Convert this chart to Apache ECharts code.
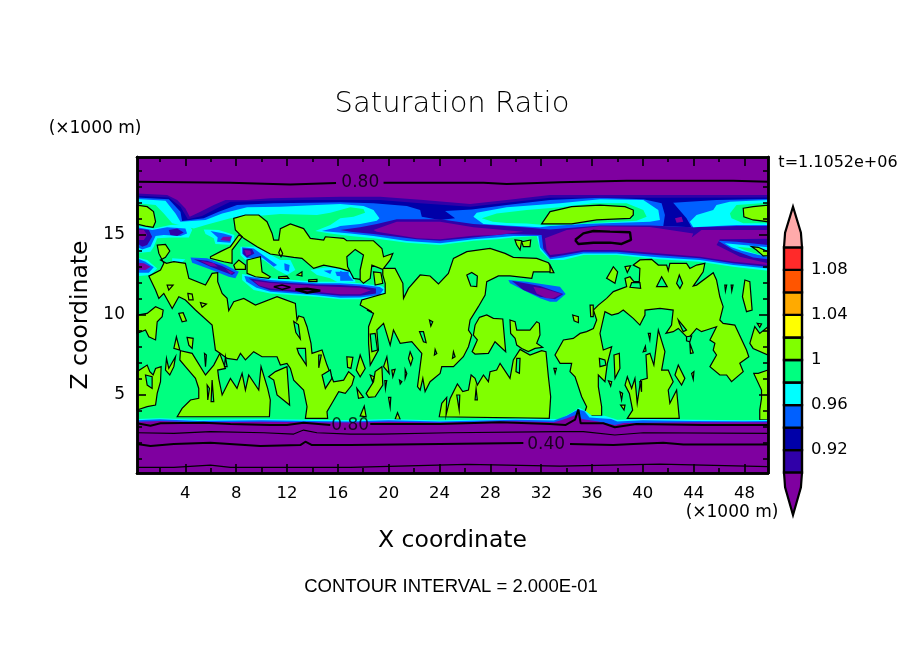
<!DOCTYPE html>
<html><head><meta charset="utf-8"><style>html,body{margin:0;background:#fff}#c{width:904px;height:654px}</style>
<script src="https://cdn.jsdelivr.net/npm/echarts@6/dist/echarts.min.js"></script></head><body><div id="c"></div>
<script>
// colour scale
const levelStarts=[0.90,0.92,0.94,0.96,0.98,1.00,1.02,1.04,1.06,1.08];
const levelColors=['#3000a8','#0000a8','#0060ff','#00ffff','#00ff80','#80ff00','#ffff00','#ffaa00','#ff5500','#ff2a2a'];
const barLabels=[0.92,0.96,1,1.04,1.08];
const xMajor=[4,8,12,16,20,24,28,32,36,40,44,48];
const xMinor=[2,6,10,14,18,22,26,30,34,38,42,46];
const yMajor=[5,10,15];
const yMinor=[1,2,3,4,6,7,8,9,11,12,13,14,16,17,18,19];
const PURPLE='#7f00a0',INDIGO='#3000a8',DARK='#0000a8',BLUE='#0060ff',CYAN='#00ffff',TEAL='#00ff80',LIME='#80ff00';

// upper and lower stratified bands (x km, z km)
const cyanBand=[[0.2,19.875],[49.85,19.875],[49.85,12.77],[47.11,13.02],[44.49,13.33],[41.35,13.48],[37.94,13.75],[35.32,13.75],[33.75,13.44],[32.7,13.44],[31.91,14.06],[31.65,14.93],[29.81,14.85],[28.5,14.73],[26.67,14.64],[24.05,14.37],[21.43,14.52],[18.81,14.79],[16.98,14.93],[15.41,15.1],[14.23,15.25],[15.41,15.62],[16.19,16.04],[17.24,16.14],[18.15,16.39],[18.02,16.62],[16.98,16.73],[15.41,16.39],[14.36,16.25],[11.48,16.31],[7.55,16.04],[5.59,15.62],[4.67,15.41],[2.97,15.73],[2.31,16.35],[1.66,16.87],[0.2,16.98]];
const blueBand=[[0.2,19.875],[49.85,19.875],[49.85,12.91],[47.11,13.12],[44.49,13.44],[41.35,13.6],[37.94,13.85],[35.32,13.85],[33.75,13.6],[32.7,13.48],[31.91,14.23],[31.78,14.93],[29.81,14.94],[28.5,14.85],[26.67,14.73],[24.05,14.48],[21.43,14.62],[18.81,14.94],[16.98,15.1],[15.41,15.21],[14.75,15.25],[15.93,15.48],[16.19,15.56],[17.76,15.69],[19.07,15.89],[19.28,16.04],[18.81,16.56],[18.02,16.81],[16.19,16.94],[14.36,16.87],[11.48,16.77],[8.86,16.73],[6.9,16.35],[5.59,15.94],[3.62,15.83],[3.23,16.35],[2.44,17.14],[0.2,17.25]];
const lensCyan=[[26.67,16.14],[26.93,16.39],[29.29,16.73],[33.48,16.98],[36.63,17.23],[40.04,17.19],[41.22,16.56],[41.35,15.94],[40.56,15.83],[35.32,15.69],[32.7,15.56],[31.91,15.48],[29.29,15.6],[27.46,15.69]];
const lensTeal=[[27.33,16.04],[28.5,16.35],[30.86,16.56],[33.48,16.73],[36.11,16.98],[38.73,16.98],[40.04,16.56],[40.3,16.14],[39.51,15.89],[36.63,15.77],[32.7,15.6],[30.86,15.72],[29.29,15.75],[28.2,15.83]];
const darkUpper=[[0.2,19.875],[49.85,19.875],[49.85,17.25],[45.8,17.19],[42.39,17.02],[43.44,16.04],[43.84,15.48],[41.61,15.56],[41.74,16.25],[41.48,16.98],[40.04,17.23],[36.63,17.33],[32.7,17.19],[29.29,16.87],[26.54,16.6],[24.44,16.5],[25.23,16.04],[24.05,15.94],[22.61,16.14],[22.48,16.56],[21.43,16.81],[18.81,16.98],[16.19,17.04],[13.84,17.02],[10.96,16.98],[8.07,16.87],[6.63,16.46],[5.45,16.04],[3.75,15.87],[3.62,16.46],[2.7,17.23],[0.2,17.35]];
const indigoUpper=[[0.2,19.875],[49.85,19.875],[49.85,17.35],[41.87,17.33],[32.7,17.33],[29.29,17.02],[26.41,16.77],[22.48,16.98],[19.33,17.19],[16.19,17.19],[13.31,17.19],[10.69,17.14],[7.55,17.08],[6.5,16.67],[5.32,16.19],[4.2,15.98],[3.62,16.77],[2.7,17.35],[0.2,17.46]];
const purpleUpper=[[0.2,19.875],[49.85,19.875],[49.85,17.5],[32.7,17.5],[29.29,17.19],[26.41,16.94],[22.74,17.19],[19.33,17.39],[16.19,17.39],[10.69,17.29],[8.86,17.19],[7.16,17.19],[6.24,16.87],[5.19,16.46],[4.35,16.14],[4.01,16.66],[3.36,17.19],[2.57,17.5],[0.2,17.6]];
const indigoLower=[[16.19,15.31],[17.76,15.48],[19.07,15.69],[20.64,15.98],[24.05,15.98],[26.67,15.69],[30.6,15.48],[32.7,15.35],[36.63,15.6],[40.56,15.6],[43.97,15.48],[47.37,15.56],[49.85,15.56],[49.85,13.02],[47.11,13.23],[44.49,13.54],[41.35,13.73],[37.94,13.96],[35.32,13.96],[33.75,13.73],[32.7,13.6],[32.17,14.16],[32.04,15.0],[29.29,15.06],[26.67,14.85],[24.05,14.64],[22.22,14.73],[18.81,15.06],[16.98,15.21]];
const purpleLowerA=[[18.81,15.31],[20.64,15.83],[24.05,15.83],[26.67,15.48],[30.6,15.21],[28.5,15.0],[26.67,14.96],[24.05,14.73],[22.22,14.79],[19.07,15.21]];
const purpleLowerB=[[32.3,14.79],[34.01,15.31],[36.63,15.55],[40.56,15.5],[43.97,15.1],[43.84,14.85],[44.62,15.31],[49.85,15.31],[49.85,14.77],[46.06,14.73],[45.8,14.37],[47.63,13.64],[49.85,13.23],[49.85,13.12],[47.11,13.33],[44.49,13.64],[41.35,13.85],[37.94,14.06],[35.32,14.06],[33.75,13.85],[32.7,13.75],[32.43,14.06]];
const indigoSpot=[[42.53,16.04],[43.05,16.14],[43.18,15.83],[42.66,15.77]];
const lensRightCyan=[[43.7,15.83],[44.23,16.25],[45.54,16.56],[45.8,16.87],[46.85,17.08],[49.85,17.19],[49.85,15.62],[47.37,15.62],[43.97,15.48]];
const lensRightTeal=[[46.85,16.35],[47.37,16.87],[49.85,17.02],[49.85,15.73],[47.9,15.73],[46.98,16.04]];
const lensRightLime=[[47.9,16.67],[48.68,16.77],[49.85,16.87],[49.85,15.83],[48.68,15.94],[47.95,16.14]];
const lensMidLime=[[32.04,15.69],[32.7,16.46],[33.48,16.6],[34.4,16.77],[36.63,16.87],[38.6,16.77],[39.25,16.56],[39.25,16.25],[38.99,16.04],[36.37,15.94],[34.4,15.69]];
const pocketBlue=[[45.93,14.64],[47.37,14.58],[49.85,14.37],[49.85,13.48],[48.68,13.6],[47.11,14.06]];
const pocketCyan=[[46.45,14.48],[49.85,14.23],[49.85,13.6],[49.47,13.69],[47.77,14.02],[46.98,14.23]];
const pocketTeal=[[47.37,14.27],[48.94,14.16],[49.2,13.75],[48.16,14.02]];
const pocketLime=[[48.55,14.27],[49.08,14.23],[49.85,13.96],[49.85,13.69],[49.47,13.69],[48.94,14.06]];

// dry patches
const streakFBlue=[[29.42,12.19],[30.86,12.08],[32.57,11.87],[33.48,11.77],[33.93,11.31],[33.22,10.83],[32.7,10.83],[31.91,11.04],[30.86,11.46],[29.55,11.98]];
const streakFIndigo=[[29.68,12.14],[31.91,11.81],[33.75,11.31],[33.09,10.98],[31.91,11.14],[30.6,11.56]];
const streakFPurple=[[31.39,11.77],[32.17,11.66],[33.62,11.31],[32.96,11.04],[32.43,11.04],[31.65,11.35]];
const blobACyan=[[0.2,15.56],[1.52,15.41],[2.83,15.62],[4.28,15.69],[4.54,15.31],[4.28,14.85],[2.83,14.85],[1.79,14.79],[1.52,14.27],[1.26,13.96],[0.48,13.89],[0.2,13.96]];
const blobABlue=[[0.2,15.48],[1.39,15.31],[2.57,15.48],[4.01,15.41],[4.14,15.1],[3.62,14.94],[2.31,15.0],[1.66,14.94],[1.26,14.27],[0.61,14.1],[0.2,14.27]];
const blobAIndigo=[[0.2,15.41],[1.13,15.31],[1.39,14.89],[1.0,14.37],[0.61,14.27],[0.2,14.48]];
const blobAIndigo2=[[2.7,15.31],[3.36,15.41],[3.88,15.16],[3.36,14.94],[2.83,15.0]];
const blobAPurple=[[0.2,15.35],[0.74,15.31],[1.0,15.0],[0.74,14.69],[0.2,14.69]];
const blobGCyan=[[5.45,15.35],[6.63,15.31],[7.86,15.0],[7.81,14.37],[6.37,14.43],[6.24,14.79],[5.59,15.06]];
const blobGBlue=[[5.98,15.25],[7.03,15.1],[7.68,14.94],[7.55,14.52],[6.5,14.58],[6.55,14.85]];
const blobGIndigo=[[6.97,14.89],[7.63,14.89],[7.5,14.62],[6.76,14.69]];
const blobBCyan=[[0.2,13.6],[1.0,13.44],[1.79,12.91],[1.26,12.5],[0.35,12.43],[0.2,12.5]];
const blobBBlue=[[0.2,13.54],[0.87,13.33],[1.52,12.98],[1.13,12.64],[0.2,12.64]];
const blobBPurple=[[0.2,13.27],[0.74,13.23],[1.26,13.02],[0.87,12.81],[0.2,12.85]];
const blobBCyan2=[[2.97,13.54],[4.01,13.48],[3.62,13.19],[2.97,13.33]];
const streakCBlue=[[4.41,13.6],[5.72,13.54],[7.16,13.12],[8.21,12.7],[7.94,12.29],[7.42,12.39],[5.98,12.85],[4.54,13.27]];
const streakCIndigo=[[4.67,13.48],[5.72,13.39],[6.9,13.06],[7.94,12.64],[7.68,12.5],[5.98,13.02]];
const streakCPurple=[[5.19,13.39],[6.24,13.23],[6.55,13.02],[5.98,13.06]];
const streakCPurple2=[[7.16,12.91],[7.81,12.64],[7.55,12.56]];
const streakDCyan=[[8.47,12.56],[10.69,12.29],[14.36,12.08],[16.19,12.08],[17.76,11.98],[19.47,11.81],[19.91,11.6],[19.47,11.14],[17.76,10.98],[16.19,10.98],[14.36,11.14],[10.69,11.35],[9.38,11.56],[8.47,12.19]];
const streakDBlue=[[8.65,12.43],[10.69,12.19],[14.36,11.98],[16.19,11.98],[17.76,11.9],[19.3,11.75],[19.6,11.6],[19.3,11.25],[17.76,11.1],[16.19,11.08],[14.36,11.23],[10.69,11.45],[9.6,11.7],[8.8,12.1]];
const streakDIndigo=[[8.99,12.29],[10.69,12.08],[14.36,11.9],[16.19,11.87],[17.76,11.8],[19.0,11.65],[19.0,11.35],[17.76,11.2],[16.19,11.2],[14.36,11.35],[10.69,11.55],[9.8,11.8]];
const streakDPurple=[[9.38,12.14],[10.69,12.0],[14.36,11.82],[16.19,11.75],[17.76,11.7],[18.6,11.55],[17.76,11.3],[16.19,11.3],[14.36,11.43],[10.69,11.65],[9.8,11.85]];
const blobECyan=[[8.34,14.27],[9.52,14.27],[11.48,13.44],[12.27,13.44],[12.66,12.81],[12.0,12.5],[11.22,12.81],[10.17,13.44],[9.52,13.54],[8.73,13.44],[8.34,13.75]];
const blobEBlue=[[8.47,14.23],[9.38,14.16],[11.22,13.12],[10.96,13.02],[10.04,13.6],[8.86,13.54],[8.47,13.85]];
const blobEIndigo=[[8.55,14.16],[9.25,14.12],[9.44,13.85],[8.86,13.6],[8.55,13.81]];
const blobEPurple=[[8.65,14.06],[9.12,14.02],[9.17,13.81],[8.81,13.71]];
const blobEBlue2=[[11.79,13.23],[12.21,13.12],[12.14,12.7],[11.82,12.81]];
const patchCyan=[[13.84,12.81],[15.15,12.98],[16.98,12.91],[17.3,12.3],[17.4,12.05],[16.0,12.05],[15.41,12.29],[14.36,12.5]];
const patchBlue1=[[14.89,12.77],[15.54,12.81],[15.41,12.56]];
const patchBlue2=[[15.8,12.7],[16.85,12.7],[16.85,12.39],[15.93,12.43]];
const patchBlue3=[[16.19,12.77],[16.85,12.5],[17.24,12.14],[16.19,12.14]];

// regions above saturation, outlined by the 1.0 contour
const limeCorner=[[0.2,16.87],[1.0,16.77],[1.5,16.46],[1.66,15.83],[1.47,15.48],[0.87,15.56],[0.2,15.69]];
const limeMain=[[7.81,16.04],[8.73,16.25],[9.78,16.25],[10.43,15.83],[10.83,15.1],[10.96,14.68],[11.35,14.68],[11.48,15.4],[12.27,15.69],[13.31,15.4],[13.84,14.79],[14.89,14.68],[15.02,14.89],[16.46,14.79],[16.71,14.64],[18.81,14.64],[19.47,14.16],[19.6,13.64],[20.33,13.85],[20.12,13.44],[19.6,12.91],[20.51,12.91],[21.12,11.98],[21.17,11.04],[21.56,11.66],[22.48,12.5],[23.26,12.44],[23.92,11.94],[24.7,12.6],[25.1,13.54],[26.15,13.96],[27.98,14.16],[29.16,13.85],[29.81,13.6],[31.65,13.54],[32.57,13.27],[32.96,12.7],[31.39,12.7],[31.26,12.29],[29.55,12.44],[28.64,12.44],[27.72,12.08],[27.59,11.25],[27.06,10.52],[26.41,9.69],[26.28,9.06],[26.54,8.75],[26.28,8.02],[25.88,7.39],[25.1,6.77],[24.18,6.77],[24.05,6.35],[23.26,5.83],[22.87,5.21],[22.69,6.04],[22.48,5.31],[22.27,5.52],[22.61,7.6],[21.82,8.33],[20.91,8.23],[20.38,9.06],[20.12,8.12],[19.6,9.48],[19.07,9.06],[19.2,7.81],[18.55,6.87],[18.42,8.23],[18.42,9.27],[18.81,10.1],[18.29,10.31],[18.68,10.2],[17.76,10.62],[17.89,10.94],[19.73,11.35],[19.73,11.98],[19.54,12.5],[19.54,12.85],[18.68,13.12],[18.55,12.29],[18.02,11.98],[17.11,12.7],[16.19,12.91],[14.89,13.12],[14.1,12.91],[13.18,13.54],[12.53,13.6],[10.69,13.81],[9.65,14.27],[8.6,14.79],[7.94,15.31]];
const limeLeft=[[1.79,14.37],[2.44,14.41],[2.78,14.0],[2.44,13.6],[2.05,13.44],[2.52,13.23],[3.1,13.33],[4.01,13.23],[4.28,12.29],[5.59,11.87],[6.11,12.6],[6.55,12.64],[6.55,12.08],[6.9,11.35],[7.29,11.04],[7.42,10.27],[7.81,10.83],[8.6,11.04],[9.52,10.62],[11.22,11.14],[12.66,10.73],[12.79,9.69],[12.92,9.94],[13.31,9.85],[13.58,9.27],[13.89,8.23],[13.97,7.6],[14.76,7.81],[15.15,6.87],[15.67,5.83],[16.46,5.93],[16.85,6.46],[17.3,6.14],[17.11,5.62],[16.59,5.1],[16.07,5.21],[15.54,4.48],[15.15,3.96],[15.2,3.54],[13.45,3.54],[13.58,4.27],[13.31,5.31],[12.53,5.93],[12.27,6.66],[12.0,6.98],[11.48,6.87],[11.22,7.39],[10.56,7.39],[10.04,7.39],[9.38,7.71],[8.73,7.19],[8.34,7.6],[8.07,7.19],[7.29,7.29],[6.76,7.6],[6.37,7.81],[6.11,9.37],[4.8,10.31],[4.01,10.94],[3.49,11.14],[2.97,10.41],[2.31,11.35],[1.92,11.04],[1.66,11.56],[1.13,12.43],[2.05,12.81],[2.31,13.23],[1.92,13.85]];
const limeBaseA=[[3.36,3.64],[3.75,4.16],[4.41,4.69],[5.06,4.79],[5.06,5.41],[4.8,6.04],[4.01,6.77],[3.57,7.19],[3.62,7.77],[4.54,7.6],[5.59,6.25],[6.24,6.87],[6.71,7.6],[7.16,6.66],[6.55,6.56],[6.63,6.04],[6.9,5.0],[7.55,6.04],[8.07,5.41],[8.47,6.35],[8.73,5.31],[8.99,6.25],[9.78,5.31],[9.96,6.77],[10.48,5.41],[10.69,4.69],[10.62,3.64]];
const limeTooth=[[10.56,6.14],[11.09,6.46],[12.0,6.77],[12.21,4.37],[11.22,5.0],[10.96,5.93]];
const limeEdgeA=[[0.2,9.99],[1.0,10.1],[1.66,10.52],[2.26,10.31],[2.18,9.89],[1.79,9.58],[1.66,8.44],[1.13,8.64],[0.87,9.06],[0.2,8.85]];
const limeEdgeB=[[0.2,4.06],[1.0,4.27],[1.66,4.37],[1.79,5.1],[2.05,5.83],[2.1,6.77],[1.66,6.66],[1.47,6.25],[1.21,6.46],[1.0,6.87],[0.2,6.46]];
const limeStrip=[[5.98,13.64],[6.76,13.96],[7.55,14.27],[8.21,15.0],[8.47,14.89],[7.68,14.06],[7.68,13.23],[7.03,13.33],[5.98,13.54]];
const limeChunkA=[[7.81,13.12],[8.21,13.44],[8.73,13.12],[8.73,12.85],[7.94,12.85]];
const limeChunkB=[[8.86,13.44],[9.91,13.64],[10.04,12.7],[10.69,12.39],[10.56,12.29],[9.52,12.39],[8.86,12.6]];
const limeRightBase=[[23.98,3.64],[24.18,4.48],[24.57,4.85],[24.52,3.75],[24.84,4.79],[25.41,5.69],[25.83,5.21],[26.28,5.31],[26.49,6.25],[26.8,6.04],[26.98,5.62],[27.46,6.25],[27.85,5.83],[27.98,6.46],[28.5,6.56],[28.77,6.98],[29.55,6.04],[29.81,7.19],[30.34,7.85],[31.12,7.5],[32.04,7.77],[32.38,7.71],[32.57,6.14],[32.75,4.89],[32.64,3.54]];
const limeRightUp=[[29.55,9.69],[29.95,9.58],[30.08,9.06],[31.12,9.06],[31.65,9.58],[31.86,9.48],[31.91,8.75],[31.65,8.23],[32.12,7.98],[31.52,7.91],[30.99,7.71],[30.47,7.91],[30.08,8.12],[29.95,8.54],[29.6,8.85]];
const limeRightMid=[[27.14,9.85],[27.72,10.0],[28.24,9.79],[28.98,9.75],[29.21,7.71],[28.37,8.33],[27.85,7.6],[26.8,7.56],[26.57,7.71],[26.98,8.44],[26.67,8.75],[26.8,9.37]];
const limeEast=[[39.25,13.12],[39.77,13.44],[40.69,13.48],[41.22,13.12],[41.87,13.12],[42.0,12.77],[42.13,13.23],[43.44,13.23],[43.7,12.91],[44.23,13.12],[44.88,13.23],[44.75,12.7],[43.97,11.81],[44.23,11.87],[45.54,12.64],[45.8,12.19],[46.06,11.14],[46.32,10.52],[46.06,9.69],[46.32,9.48],[47.24,9.37],[48.16,7.81],[48.34,7.39],[47.63,6.98],[47.9,6.46],[46.98,5.83],[46.59,6.25],[46.06,6.25],[45.28,6.77],[45.8,7.5],[45.54,7.81],[45.67,8.23],[45.28,8.44],[45.8,9.27],[45.01,9.06],[44.62,8.96],[44.23,9.16],[43.57,8.54],[42.79,9.16],[42.39,8.96],[41.82,8.85],[42.26,9.37],[42.39,10.31],[41.35,10.41],[40.17,10.31],[40.17,10.0],[39.77,9.37],[39.25,9.79],[38.46,10.31],[38.07,10.1],[37.55,10.0],[37.02,10.21],[36.63,8.85],[36.89,7.81],[37.55,8.02],[37.21,6.98],[37.02,5.83],[36.5,6.25],[36.5,5.52],[36.76,4.27],[36.76,3.69],[35.32,3.69],[35.58,4.27],[35.19,4.89],[34.67,6.14],[34.27,6.46],[34.4,6.98],[33.49,6.98],[33.09,7.5],[33.75,8.44],[34.53,8.54],[35.06,8.85],[35.58,8.96],[36.11,9.16],[36.37,9.69],[36.11,10.31],[36.5,10.62],[37.15,11.04],[37.68,11.46],[38.73,11.77],[38.6,12.29],[38.99,12.39],[39.3,12.08],[39.72,12.08],[39.77,12.91]];
const limeEastBase=[[38.78,3.54],[39.2,4.06],[38.94,5.1],[38.6,5.62],[38.78,6.14],[39.12,5.41],[39.38,6.04],[39.56,4.48],[39.83,5.93],[40.35,6.04],[40.25,7.5],[40.56,7.6],[40.87,6.87],[41.22,9.06],[41.74,7.71],[41.48,6.56],[42.0,6.56],[42.39,5.83],[42.0,5.31],[42.13,4.48],[42.66,5.31],[42.87,3.54]];
const limeEdgeC=[[49.85,6.56],[49.08,6.35],[48.73,6.35],[49.34,5.31],[49.34,4.79],[49.2,4.06],[49.2,3.44],[49.85,3.44]];
const limeEdgeD=[[48.42,8.23],[48.81,9.27],[49.2,8.85],[49.85,9.27],[49.85,7.5],[48.68,7.91]];
const limeOvalEast=[[48.03,12.19],[48.42,12.08],[48.6,10.31],[48.16,10.21],[47.84,11.14]];
const limeSmall=[
[[2.52,7.29],[2.7,6.66],[3.23,7.39],[3.1,6.77],[2.78,6.25],[2.44,6.56]],[[3.1,7.91],[3.3,8.64],[3.57,7.81]],[[4.14,8.6],[4.62,8.54],[4.54,7.91],[4.28,8.12]],[[3.49,10.1],[3.83,10.14],[4.09,9.64],[3.75,9.58]],
[[2.57,11.87],[3.04,11.87],[2.7,11.56]],[[4.2,11.35],[4.54,11.31],[4.62,10.94],[4.28,10.94]],[[5.19,10.77],[5.66,10.69],[5.32,10.48]],
[[11.35,12.39],[12.0,12.43],[12.14,12.29],[11.35,12.29]],[[12.79,12.5],[13.18,12.7],[13.18,12.43]],[[13.71,12.19],[14.36,12.23],[14.36,12.08],[13.71,12.08]],[[11.48,14.16],[11.66,13.85],[11.53,13.64],[11.35,13.89]],
[[18.81,12.7],[19.39,12.64],[19.54,11.98],[18.94,11.87]],[[29.94,14.69],[30.47,14.64],[30.34,14.06],[30.08,14.37]],[[30.47,14.58],[31.18,14.69],[31.12,14.27],[30.6,14.27]],
[[16.71,7.39],[17.19,7.35],[17.03,6.66],[16.77,6.73]],[[17.45,6.56],[17.76,7.5],[18.16,6.66],[17.76,6.14]],[[18.23,5.1],[18.81,5.83],[18.94,6.46],[19.47,6.77],[19.54,5.62],[18.94,4.89],[18.42,4.85]],[[17.5,5.41],[18.02,4.85],[17.63,4.79]],[[17.76,3.69],[18.08,4.31],[18.23,3.64]],[[20.51,3.48],[20.7,3.89],[20.91,3.48]],[[19.99,4.85],[20.17,4.85],[20.12,4.23]],[[19.7,5.9],[19.85,5.9],[19.75,5.4]],[[18.55,6.25],[18.86,6.14],[18.73,5.83]],[[20.25,6.56],[20.51,6.6],[20.33,6.14]],[[21.3,6.6],[21.43,6.35],[21.3,6.04]],[[20.85,5.93],[21.04,5.83],[20.91,5.69]],[[19.6,6.77],[19.86,7.39],[20.04,6.35]],[[21.69,7.7],[21.9,7.29],[21.74,6.87],[21.56,7.29]],
[[42.79,6.87],[43.31,6.04],[43.05,5.62],[42.53,6.25]],[[37.73,7.5],[38.15,7.6],[38.2,6.66],[37.81,6.04]],[[38.2,5.2],[38.41,5.1],[38.33,4.69]],[[38.25,4.37],[38.6,4.37],[38.52,4.06]],[[37.29,5.89],[37.55,5.83],[37.47,5.56]],[[33.0,6.66],[33.2,6.66],[33.1,6.35]],[[34.48,10.0],[34.93,9.89],[34.93,9.52],[34.59,9.64]],[[40.2,8.05],[40.25,7.75],[40.03,7.7]],[[40.43,8.85],[40.6,8.85],[40.55,8.45]],[[43.7,8.23],[43.97,7.64],[43.75,7.6]],[[43.84,6.35],[44.02,6.46],[43.97,5.98]],[[49.0,9.48],[49.34,9.44],[49.2,9.23]],
[[46.45,11.87],[46.6,11.87],[46.5,11.5]],[[46.95,11.87],[47.1,11.87],[47.0,11.5]],[[37.15,12.29],[37.68,13.02],[38.02,12.7],[37.81,11.98],[37.29,12.23]],[[38.6,13.02],[39.04,13.08],[38.78,12.66]],[[32.7,13.12],[33.0,12.64],[32.7,12.64]],[[35.85,10.62],[36.1,10.62],[36.1,9.9],[35.9,9.9]]];
// holes back to the 0.98-1 class inside lime regions
const tealHoles=[
[[16.71,13.64],[17.37,14.1],[18.02,13.75],[17.76,12.81],[17.76,12.23],[17.24,12.29],[16.77,13.02]],[[26.15,12.5],[26.54,12.66],[26.98,12.44],[26.93,11.77],[26.46,11.81]],[[18.55,8.81],[18.94,8.85],[19.12,7.81],[18.68,7.71]],[[22.43,8.96],[22.74,8.96],[22.95,8.27],[22.74,8.33]],[[23.21,9.69],[23.47,9.58],[23.32,9.31]],[[23.66,7.85],[23.79,7.6],[23.6,7.5]],[[25.1,7.71],[25.23,7.39],[25.02,7.29]],
[[12.53,9.6],[12.9,9.4],[13.05,8.5],[12.7,8.9]],[[0.87,6.25],[1.39,6.14],[1.39,5.41],[1.0,5.62]],[[5.51,7.6],[5.66,7.5],[5.59,6.77]],[[7.16,7.39],[7.29,6.77],[7.08,6.77]],[[5.72,5.62],[5.9,5.41],[5.77,4.69]],[[6.11,5.93],[6.24,4.58],[6.03,4.58]],[[14.76,6.25],[15.41,6.56],[15.54,6.04],[15.02,5.41]],[[12.79,7.92],[13.45,7.92],[13.52,6.87],[12.92,7.6]],[[14.5,7.5],[14.7,7.5],[14.5,6.7]],
[[25.36,5.0],[25.6,5.0],[25.55,4.06]],[[26.88,5.4],[26.98,4.7],[26.8,4.7]],[[30.08,7.29],[30.34,7.29],[30.29,6.35],[30.02,6.46]],[[39.12,12.02],[39.77,12.02],[39.83,11.66],[38.99,11.73]],[[41.08,11.77],[41.48,12.39],[41.92,11.77]],[[42.66,11.98],[42.87,12.5],[43.13,11.98],[42.92,11.66]],[[36.58,7.29],[37.02,7.19],[37.1,6.87],[36.63,6.77]],[[42.79,9.69],[43.44,9.06],[43.18,8.96],[42.87,9.48]],[[43.44,8.64],[43.84,8.69],[43.7,8.33],[43.44,8.39]],[[39.77,5.83],[39.9,5.83],[39.9,5.2]]];

// boundary layer below 3.5 km
const floorCyan=[[0.2,3.5],[2,3.55],[5,3.45],[10,3.5],[14,3.45],[17,3.42],[20,3.5],[24,3.4],[30,3.52],[33.5,3.5],[34.4,3.9],[35.0,4.2],[35.5,4.0],[36,3.7],[37,3.7],[38,3.45],[40,3.5],[44,3.45],[48,3.42],[49.85,3.45],[49.85,0.125],[0.2,0.125]];
const floorBlue=[[0.2,3.42],[2,3.48],[5,3.38],[10,3.42],[14,3.38],[17,3.35],[20,3.42],[24,3.35],[30,3.45],[33,3.4],[34,3.7],[34.9,4.1],[35.4,4.0],[35.8,3.6],[37.5,3.5],[38,3.35],[40,3.42],[44,3.38],[48,3.36],[49.85,3.38],[49.85,0.125],[0.2,0.125]];
const floorPurple=[[0.2,3.33],[2,3.38],[5,3.3],[10,3.33],[14,3.3],[17,3.28],[20,3.33],[24,3.28],[30,3.36],[33,3.3],[33.7,3.45],[34.4,3.65],[34.9,3.8],[35.2,3.5],[36.5,3.35],[37.8,3.12],[38.5,3.25],[44,3.3],[49.85,3.3],[49.85,0.125],[0.2,0.125]];

// iso-lines of the coarse 0.2 interval
const topLineA=[[0.2,18.33],[7.55,18.27],[12.27,18.16],[15.86,18.25]];
const topLineB=[[19.6,18.27],[27.46,18.27],[29.29,18.19],[33.48,18.3],[38.73,18.39],[47.11,18.39],[49.85,18.33]];
const ring080=[[34.67,14.69],[35.32,15.1],[36.11,15.25],[37.42,15.21],[38.99,15.17],[39.07,14.69],[38.33,14.44],[37.42,14.52],[36.11,14.52],[34.93,14.44],[34.67,14.69]];
const ring080b=[[10.96,11.77],[11.61,11.87],[12.27,11.73],[11.61,11.6],[10.96,11.77]];
const ring080c=[[12.66,11.6],[13.58,11.64],[14.62,11.52],[13.58,11.39],[12.66,11.6]];
const low080A=[[0.2,3.23],[1.26,3.08],[2.05,3.23],[5.45,3.27],[7.55,3.19],[10.69,3.12],[12.0,3.12],[13.31,3.27],[15.41,3.12]];
const low080B=[[18.55,3.19],[20.9,3.19],[24.05,3.19],[28.77,3.29],[32.7,3.19],[33.9,3.12],[34.67,3.46],[34.93,4.1],[35.11,3.23],[36.89,3.23],[37.8,2.98],[39.5,3.19],[44.75,3.12],[49.85,3.12]];
const low060=[[0.2,2.64],[3.1,2.6],[5.98,2.71],[10.17,2.64],[12.53,2.56],[13.31,2.81],[14.36,2.64],[16.98,2.56],[19.33,2.56],[24.84,2.64],[33.48,2.71],[35.32,2.71],[37.8,2.5],[40.04,2.64],[49.85,2.6]];
const low040A=[[0.2,1.94],[1.26,1.81],[3.1,1.94],[5.98,2.02],[9.91,1.81],[13.05,1.87],[13.45,2.08],[13.97,1.87],[16.98,1.87],[24.05,1.94],[30.6,2.0]];
const low040B=[[34.27,1.94],[37.68,1.87],[39.25,1.94],[41.61,2.02],[43.18,1.91],[49.85,1.91]];
const low020=[[0.2,0.48],[3.1,0.48],[5.98,0.62],[7.55,0.48],[16.98,0.48],[26.15,0.66],[33.48,0.56],[41.35,0.68],[49.85,0.52]];
const contourLabels=[[17.77,18.25,'0.80'],[16.98,3.06,'0.80'],[32.39,1.88,'0.40']];

const fills=[
[cyanBand,CYAN],[blueBand,BLUE],[lensCyan,CYAN],[lensTeal,TEAL],[darkUpper,DARK],[indigoUpper,INDIGO],[purpleUpper,PURPLE],[indigoLower,INDIGO],[purpleLowerA,PURPLE],[purpleLowerB,PURPLE],[indigoSpot,PURPLE],[lensRightCyan,CYAN],[lensRightTeal,TEAL],[pocketBlue,BLUE],[pocketCyan,CYAN],[pocketTeal,TEAL],
[streakFBlue,BLUE],[streakFIndigo,INDIGO],[streakFPurple,PURPLE],[blobACyan,CYAN],[blobABlue,BLUE],[blobAIndigo,INDIGO],[blobAIndigo2,INDIGO],[blobAPurple,PURPLE],[blobGCyan,CYAN],[blobGBlue,BLUE],[blobGIndigo,PURPLE],[blobBCyan,CYAN],[blobBBlue,BLUE],[blobBPurple,PURPLE],[blobBCyan2,CYAN],[streakCBlue,BLUE],[streakCIndigo,INDIGO],[streakCPurple,PURPLE],[streakCPurple2,PURPLE],[streakDCyan,CYAN],[streakDBlue,BLUE],[streakDIndigo,INDIGO],[streakDPurple,PURPLE],[blobECyan,CYAN],[blobEBlue,BLUE],[blobEIndigo,INDIGO],[blobEPurple,PURPLE],[blobEBlue2,BLUE],[patchCyan,CYAN],[patchBlue1,BLUE],[patchBlue2,BLUE],[patchBlue3,BLUE]];
const outlined=[limeCorner,limeMain,limeLeft,limeBaseA,limeTooth,limeEdgeA,limeEdgeB,limeStrip,limeChunkA,limeChunkB,limeRightBase,limeRightUp,limeRightMid,limeEast,limeEastBase,limeEdgeC,limeEdgeD,limeOvalEast,lensMidLime,lensRightLime,pocketLime,...limeSmall];
const floors=[[floorCyan,CYAN],[floorBlue,BLUE],[floorPurple,PURPLE]];
const shapes=[...fills.map(f=>({p:f[0],c:f[1]})),...outlined.map(p=>({p,c:LIME,s:1})),...tealHoles.map(p=>({p,c:TEAL,s:1})),...floors.map(f=>({p:f[0],c:f[1]}))];

const FONT='"DejaVu Sans"';
const tx=(x,y,t,size,extra)=>({type:'text',x,y,silent:true,style:Object.assign({text:t,fontFamily:FONT,fontSize:size,fill:'#000',align:'center',verticalAlign:'middle'},extra||{}),z:50});
const xAx=(pos,vals,len,lab)=>({type:'value',gridIndex:0,position:pos,z:10,min:0.2,max:49.85,splitLine:{show:false},
  axisLine:{show:true,onZero:false,lineStyle:{color:'#000',width:2.5}},
  axisTick:{show:true,inside:true,length:len,customValues:vals,lineStyle:{color:'#000',width:1.6}},
  axisLabel:lab?{show:true,customValues:vals,margin:12,color:'#000',fontFamily:FONT,fontSize:16.5}:{show:false}});
const yAx=(pos,vals,len,lab)=>({type:'value',gridIndex:0,position:pos,z:10,min:0.125,max:19.875,splitLine:{show:false},
  axisLine:{show:true,onZero:false,lineStyle:{color:'#000',width:2.5}},
  axisTick:{show:true,inside:true,length:len,customValues:vals,lineStyle:{color:'#000',width:1.6}},
  axisLabel:lab?{show:true,customValues:vals,margin:12,color:'#000',fontFamily:FONT,fontSize:17}:{show:false}});
const lineS=(d,w)=>({type:'line',xAxisIndex:0,yAxisIndex:0,data:d,showSymbol:false,silent:true,animation:false,z:6,lineStyle:{color:'#000',width:w}});

const chart=echarts.init(document.getElementById('c'),null,{renderer:'canvas'});
const xMain=xAx('bottom',xMajor,9,true);
xMain.name='X coordinate';xMain.nameLocation='middle';xMain.nameGap=56;xMain.nameTextStyle={color:'#000',fontFamily:FONT,fontSize:23.5};
const yMain=yAx('left',yMajor,9,true);
yMain.name='Z coordinate';yMain.nameLocation='middle';yMain.nameGap=35;yMain.nameTextStyle={color:'#000',fontFamily:FONT,fontSize:23.5};
chart.setOption({
  animation:false,backgroundColor:'#fff',
  title:{text:'Saturation Ratio',left:'center',top:85,textStyle:{color:'#000',fontFamily:'"DejaVu Sans Light","DejaVu Sans"',fontWeight:'normal',fontSize:29}},
  grid:[{left:137,top:157,width:631,height:316,show:true,backgroundColor:TEAL,borderWidth:0},
        {left:784,top:247.3,width:18,height:225.4,show:false}],
  xAxis:[xMain,xAx('top',xMajor,9,false),xAx('bottom',xMinor,5,false),xAx('top',xMinor,5,false),
    {type:'value',gridIndex:1,min:0,max:1,show:false}],
  yAxis:[yMain,yAx('right',yMajor,9,false),yAx('left',yMinor,5,false),yAx('right',yMinor,5,false),
    {type:'value',gridIndex:1,position:'right',min:0.9,max:1.1,splitLine:{show:false},axisLine:{show:false},axisTick:{show:false},
     axisLabel:{show:true,customValues:barLabels,margin:9,color:'#000',fontFamily:FONT,fontSize:16.5,formatter:v=>String(+v.toFixed(2))}}],
  series:[
    {type:'custom',xAxisIndex:0,yAxisIndex:0,z:2,silent:true,data:shapes.map((s,i)=>[i]),
     renderItem:(params,api)=>{const s=shapes[params.dataIndex];
       return {type:'polygon',shape:{points:s.p.map(q=>api.coord(q))},
         style:{fill:s.c,stroke:s.s?'#000':null,lineWidth:s.s?1.2:0}};}},
    lineS(topLineA,2),lineS(topLineB,2),lineS(ring080,2.4),lineS(ring080b,1.5),lineS(ring080c,2.4),lineS(low080A,2),lineS(low080B,2),lineS(low060,1.2),lineS(low040A,2),lineS(low040B,2),lineS(low020,1.2),
    {type:'scatter',xAxisIndex:0,yAxisIndex:0,z:7,silent:true,symbolSize:0,data:contourLabels.map(l=>({value:[l[0],l[1]],name:l[2]})),
     label:{show:true,position:'inside',formatter:'{b}',color:'#000',fontFamily:FONT,fontSize:17}},
    {type:'custom',xAxisIndex:4,yAxisIndex:4,z:3,silent:true,data:levelStarts.map((v,i)=>[v,i]),
     renderItem:(params,api)=>{const i=params.dataIndex,lo=levelStarts[i],a=api.coord([0,lo+0.02]),b=api.coord([1,lo]);
       return {type:'rect',shape:{x:a[0],y:a[1],width:b[0]-a[0],height:b[1]-a[1]},style:{fill:levelColors[i],stroke:'#000',lineWidth:2.4}};}},
    {type:'custom',xAxisIndex:4,yAxisIndex:4,z:3,silent:true,data:[[1.136,'#ffaaaa'],[0.8625,PURPLE]],
     renderItem:(params,api)=>{const tip=api.value(0),base=tip>1?1.1:0.9,mid=tip>1?1.113:0.887;
       return {type:'polygon',shape:{points:[api.coord([0,base]),api.coord([0.06,mid]),api.coord([0.5,tip]),api.coord([0.94,mid]),api.coord([1,base])]},
         style:{fill:tip>1?'#ffaaaa':PURPLE,stroke:'#000',lineWidth:2.2}};}}
  ],
  graphic:[
    tx(95,129,'(×1000 m)',17),
    tx(732,513,'(×1000 m)',17),
    tx(838,163,'t=1.1052e+06',16),
    tx(451,587,'CONTOUR INTERVAL = 2.000E-01',18.5,{fontFamily:'"Liberation Sans"'})
  ]
});
</script></body></html>
